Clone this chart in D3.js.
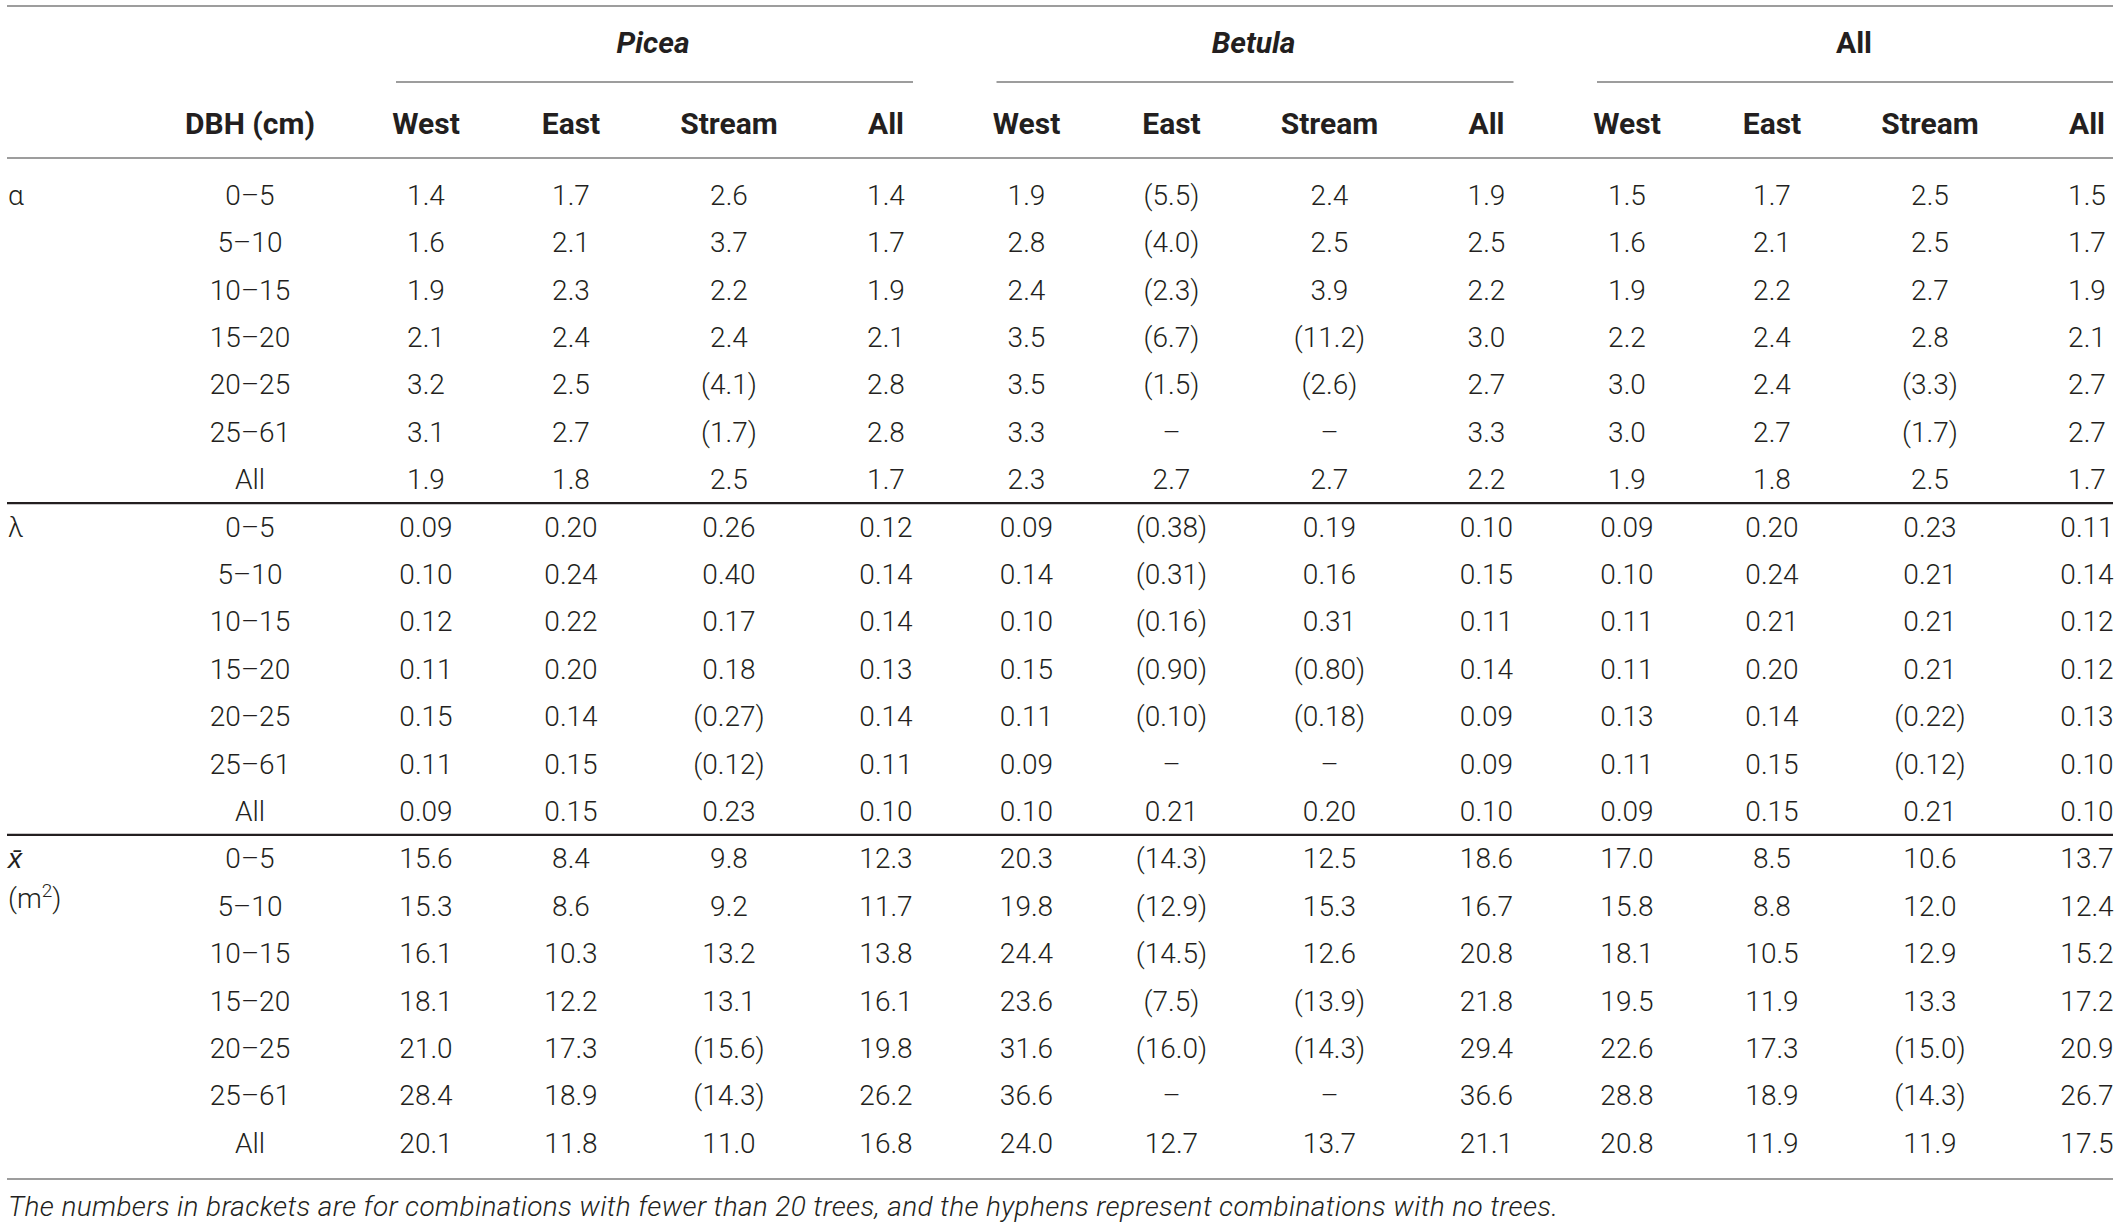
<!DOCTYPE html>
<html>
<head>
<meta charset="utf-8">
<script src="https://cdn.jsdelivr.net/npm/d3@7"></script>
<style>
    body { margin: 0; background: #fff; }
    svg text { font-family: "Helvetica Neue", Roboto, "Liberation Sans", sans-serif; fill: #231f20; }
    .cell { font-size: 28px; font-weight: 300; }
    .head { font-size: 30px; font-weight: 700; }
    .note { font-size: 28px; font-weight: 300; font-style: italic; }
</style>
</head>
<body>
<div class="chart"></div>
<script>

// table content
const species = ["Picea", "Betula", "All"];
const sites = ["West", "East", "Stream", "All"];
const dbhClasses = ["0–5", "5–10", "10–15", "15–20", "20–25", "25–61", "All"];
const parameters = ["α", "λ", "x̄"];

// one row per DBH class, 12 columns: Picea W E S A | Betula W E S A | All W E S A
const alphaValues = [
    ["1.4", "1.7", "2.6", "1.4", "1.9", "(5.5)", "2.4", "1.9", "1.5", "1.7", "2.5", "1.5"],
    ["1.6", "2.1", "3.7", "1.7", "2.8", "(4.0)", "2.5", "2.5", "1.6", "2.1", "2.5", "1.7"],
    ["1.9", "2.3", "2.2", "1.9", "2.4", "(2.3)", "3.9", "2.2", "1.9", "2.2", "2.7", "1.9"],
    ["2.1", "2.4", "2.4", "2.1", "3.5", "(6.7)", "(11.2)", "3.0", "2.2", "2.4", "2.8", "2.1"],
    ["3.2", "2.5", "(4.1)", "2.8", "3.5", "(1.5)", "(2.6)", "2.7", "3.0", "2.4", "(3.3)", "2.7"],
    ["3.1", "2.7", "(1.7)", "2.8", "3.3", "–", "–", "3.3", "3.0", "2.7", "(1.7)", "2.7"],
    ["1.9", "1.8", "2.5", "1.7", "2.3", "2.7", "2.7", "2.2", "1.9", "1.8", "2.5", "1.7"]
];

const lambdaValues = [
    ["0.09", "0.20", "0.26", "0.12", "0.09", "(0.38)", "0.19", "0.10", "0.09", "0.20", "0.23", "0.11"],
    ["0.10", "0.24", "0.40", "0.14", "0.14", "(0.31)", "0.16", "0.15", "0.10", "0.24", "0.21", "0.14"],
    ["0.12", "0.22", "0.17", "0.14", "0.10", "(0.16)", "0.31", "0.11", "0.11", "0.21", "0.21", "0.12"],
    ["0.11", "0.20", "0.18", "0.13", "0.15", "(0.90)", "(0.80)", "0.14", "0.11", "0.20", "0.21", "0.12"],
    ["0.15", "0.14", "(0.27)", "0.14", "0.11", "(0.10)", "(0.18)", "0.09", "0.13", "0.14", "(0.22)", "0.13"],
    ["0.11", "0.15", "(0.12)", "0.11", "0.09", "–", "–", "0.09", "0.11", "0.15", "(0.12)", "0.10"],
    ["0.09", "0.15", "0.23", "0.10", "0.10", "0.21", "0.20", "0.10", "0.09", "0.15", "0.21", "0.10"]
];

const meanValues = [
    ["15.6", "8.4", "9.8", "12.3", "20.3", "(14.3)", "12.5", "18.6", "17.0", "8.5", "10.6", "13.7"],
    ["15.3", "8.6", "9.2", "11.7", "19.8", "(12.9)", "15.3", "16.7", "15.8", "8.8", "12.0", "12.4"],
    ["16.1", "10.3", "13.2", "13.8", "24.4", "(14.5)", "12.6", "20.8", "18.1", "10.5", "12.9", "15.2"],
    ["18.1", "12.2", "13.1", "16.1", "23.6", "(7.5)", "(13.9)", "21.8", "19.5", "11.9", "13.3", "17.2"],
    ["21.0", "17.3", "(15.6)", "19.8", "31.6", "(16.0)", "(14.3)", "29.4", "22.6", "17.3", "(15.0)", "20.9"],
    ["28.4", "18.9", "(14.3)", "26.2", "36.6", "–", "–", "36.6", "28.8", "18.9", "(14.3)", "26.7"],
    ["20.1", "11.8", "11.0", "16.8", "24.0", "12.7", "13.7", "21.1", "20.8", "11.9", "11.9", "17.5"]
];

const footnote = "The numbers in brackets are for combinations with fewer than 20 trees, and the hyphens represent combinations with no trees.";


function Table(container) {

    const width = 2119, height = 1228;

    const svg = d3.select(container)
        .append("svg")
        .attr("width", width)
        .attr("height", height);

    // column positions: one point per species group, then an offset per site
    const groupX = d3.scalePoint().domain(species).range([426, 1627]);
    const siteX = d3.scaleOrdinal().domain(sites).range([0, 145, 303, 460]);
    const colX = (i) => groupX(species[Math.floor(i / 4)]) + siteX(sites[i % 4]);
    const dbhX = 250;

    // rows: 3 parameters x 7 DBH classes
    const nRows = parameters.length * dbhClasses.length;
    const yScale = d3.scaleLinear().domain([0, nRows - 1]).range([195, 1143]);
    const rowStep = yScale(1) - yScale(0);

    function rule(y, x0, x1, color, w) {
        svg.append("line")
            .attr("x1", x0).attr("x2", x1)
            .attr("y1", y).attr("y2", y)
            .attr("stroke", color)
            .attr("stroke-width", w);
    }

    // header
    rule(6, 7, 2113, "#7d7d7d", 1.5);

    species.forEach(sp => {
        const gx = groupX(sp);
        svg.append("text")
            .attr("class", "head")
            .attr("x", gx + 227)
            .attr("y", 42)
            .attr("dy", "0.35em")
            .attr("text-anchor", "middle")
            .style("font-style", sp == "All" ? "normal" : "italic")
            .text(sp);
        rule(82, gx - 30, Math.min(gx + 487, 2113), "#7d7d7d", 1.5);
    });

    svg.append("text")
        .attr("class", "head")
        .attr("x", dbhX)
        .attr("y", 123)
        .attr("dy", "0.35em")
        .attr("text-anchor", "middle")
        .text("DBH (cm)");

    d3.range(12).forEach(i => {
        svg.append("text")
            .attr("class", "head")
            .attr("x", colX(i))
            .attr("y", 123)
            .attr("dy", "0.35em")
            .attr("text-anchor", "middle")
            .text(sites[i % 4]);
    });

    rule(158, 7, 2113, "#7d7d7d", 1.5);

    // body
    const blocks = [alphaValues, lambdaValues, meanValues];

    blocks.forEach((values, b) => {
        const first = b * dbhClasses.length;

        // parameter label
        const label = svg.append("text")
            .attr("class", "cell")
            .attr("x", 8)
            .attr("y", yScale(first))
            .attr("dy", "0.35em");
        if (b == 2) {
            label.style("font-style", "italic").text(parameters[b]);
            const unit = svg.append("text")
                .attr("class", "cell")
                .attr("x", 8)
                .attr("y", yScale(first) + 40)
                .attr("dy", "0.35em");
            unit.append("tspan").text("(m");
            unit.append("tspan").attr("baseline-shift", "super").style("font-size", "19px").text("2");
            unit.append("tspan").text(")");
        }
        else {
            label.text(parameters[b]);
        }

        values.forEach((row, r) => {
            const y = yScale(first + r);
            svg.append("text")
                .attr("class", "cell")
                .attr("x", dbhX)
                .attr("y", y)
                .attr("dy", "0.35em")
                .attr("text-anchor", "middle")
                .text(dbhClasses[r]);

            svg.selectAll(null)
                .data(row)
                .enter()
                .append("text")
                .attr("class", "cell")
                .attr("x", (d, i) => colX(i))
                .attr("y", y)
                .attr("dy", "0.35em")
                .attr("text-anchor", "middle")
                .text(d => d);
        });

        // separator after each block
        if (b < blocks.length - 1) {
            rule(yScale(first + dbhClasses.length - 1) + rowStep / 2, 7, 2113, "#231f20", 2.2);
        }
    });

    rule(1179, 7, 2113, "#7d7d7d", 1.5);

    svg.append("text")
        .attr("class", "note")
        .attr("x", 8)
        .attr("y", 1206)
        .attr("dy", "0.35em")
        .attr("textLength", 1550)
        .attr("lengthAdjust", "spacing")
        .text(footnote);
}

Table(".chart");
</script>
</body>
</html>
